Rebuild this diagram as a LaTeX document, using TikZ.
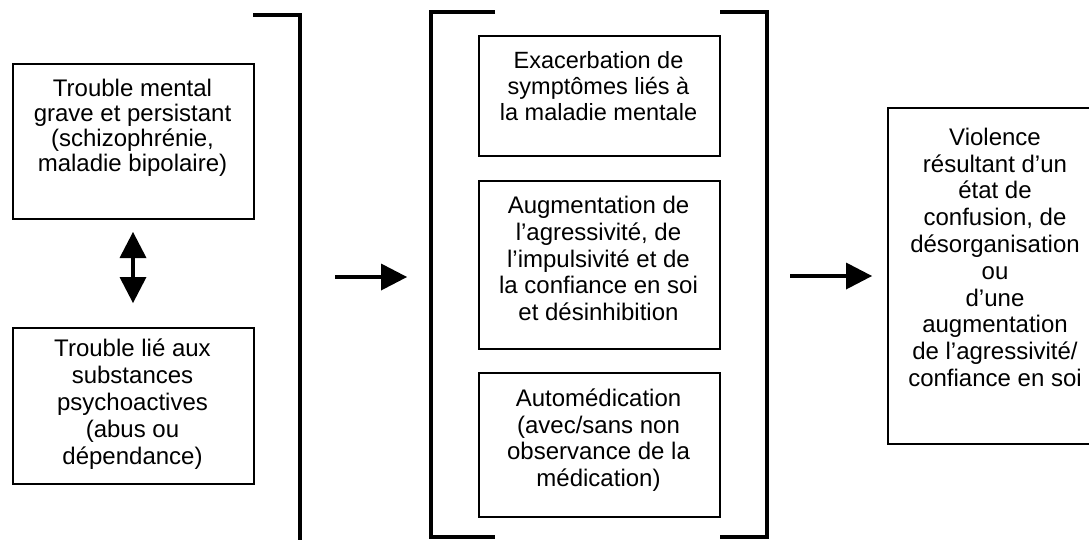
\documentclass[tikz,border=0pt]{standalone}
\usepackage{fontspec}
\setmainfont{Liberation Sans}
\usetikzlibrary{arrows.meta}

\begin{document}
\begin{tikzpicture}[x=1pt, y=-1pt,
    box/.style={draw, line width=2pt, inner sep=0pt, anchor=north west, minimum width=241pt},
    txt/.style={align=center, inner sep=0pt, anchor=north, font=\fontsize{24}{26.8}\selectfont},
    bracket/.style={line width=3.5pt},
    flow/.style={line width=4pt, -{Triangle[length=26pt, width=27pt, line width=0pt]}}]
    \useasboundingbox (0,0) rectangle (1089,539);

    % left column
    \node[box, minimum height=155pt] (mental) at (12,63) {};
    \node[txt, font=\fontsize{24}{25}\selectfont] (mentaltxt) at (132.5,78.8)
        {Trouble mental\\grave et persistant\\(schizophrénie,\\maladie bipolaire)};
    \node[box, minimum height=156pt] (subst) at (12,327) {};
    \node[txt, font=\fontsize{24}{27}\selectfont] (substtxt) at (132.5,339)
        {Trouble lié aux\\substances\\psychoactives\\(abus ou\\dépendance)};
    \coordinate (dtop) at (133,232);
    \coordinate (dbot) at (133,303);
    \draw[line width=4pt, {Triangle[length=26pt, width=27pt, line width=0pt]}-{Triangle[length=26pt, width=27pt, line width=0pt]}] (dtop) -- (dbot);

    % middle column
    \node[box, minimum height=120pt] (exac) at (478,35) {};
    \node[txt, font=\fontsize{23.5}{26}\selectfont] (exactxt) at (598.5,51.5)
        {Exacerbation de\\symptômes liés à\\la maladie mentale};
    \node[box, minimum height=168pt] (aggr) at (478,180) {};
    \node[txt] (aggrtxt) at (598.5,196)
        {Augmentation de\\l’agressivité, de\\l’impulsivité et de\\la confiance en soi\\et désinhibition};
    \node[box, minimum height=144pt] (auto) at (478,372) {};
    \node[txt] (autotxt) at (598.5,388.5)
        {Automédication\\(avec/sans non\\observance de la\\médication)};

    % right box
    \node[box, minimum width=216pt, minimum height=336pt] (viol) at (887,107) {};
    \node[txt] (violtxt) at (995,127.8)
        {Violence\\résultant d’un\\état de\\confusion, de\\désorganisation\\ou\\d’une\\augmentation\\de l’agressivité/\\confiance en soi};

    % brackets
    \coordinate (la) at (253,15);
    \coordinate (lb) at (300,15);
    \coordinate (lc) at (300,545);
    \draw[bracket] (la) -- (lb) -- (lc);
    \coordinate (ma) at (495,12);
    \coordinate (mb) at (431,12);
    \coordinate (mc) at (431,537);
    \coordinate (md) at (495,537);
    \draw[bracket] (ma) -- (mb) -- (mc) -- (md);
    \coordinate (ra) at (720,12);
    \coordinate (rb) at (767,12);
    \coordinate (rc) at (767,537);
    \coordinate (rd) at (720,537);
    \draw[bracket] (ra) -- (rb) -- (rc) -- (rd);

    % arrows
    \coordinate (a1s) at (335,277);
    \coordinate (a1e) at (407,277);
    \coordinate (a2s) at (790,276);
    \coordinate (a2e) at (872,276);
    \draw[flow] (a1s) -- (a1e);
    \draw[flow] (a2s) -- (a2e);
\end{tikzpicture}
\end{document}
